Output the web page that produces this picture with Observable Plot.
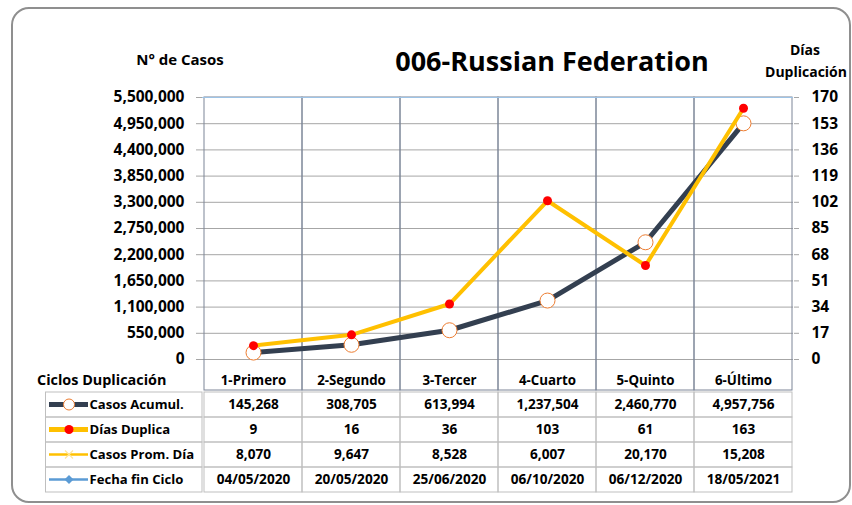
<!DOCTYPE html>
<html><head><meta charset="utf-8">
<script src="https://cdn.jsdelivr.net/npm/d3@7"></script>
<script src="https://cdn.jsdelivr.net/npm/@observablehq/plot@0.6"></script>
<style>
body{margin:0;background:#fff;}
#wrap{position:relative;width:852px;height:505px;overflow:hidden;font-family:"Open Sans",sans-serif;background:#fff;}
#frame{position:absolute;left:11px;top:7px;width:840px;height:496px;border:2px solid #8f8f8f;border-radius:18px;box-sizing:border-box;}
#main,#table{position:absolute;left:0;}
#main{top:0;}
#table{top:359px;}
</style>
</head><body>
<div id="wrap"><div id="frame"></div><div id="main"></div><div id="table"></div></div>
<script>
const categories = ["1-Primero","2-Segundo","3-Tercer","4-Cuarto","5-Quinto","6-Último"];
const casosAcumul = [145268, 308705, 613994, 1237504, 2460770, 4957756];
const diasDuplica = [9, 16, 36, 103, 61, 163];
const casosPromDia = [8070, 9647, 8528, 6007, 20170, 15208];
const fechaFinCiclo = ["04/05/2020","20/05/2020","25/06/2020","06/10/2020","06/12/2020","18/05/2021"];
const leftTicks = [0,550000,1100000,1650000,2200000,2750000,3300000,3850000,4400000,4950000,5500000];
const rightTicks = [0,17,34,51,68,85,102,119,136,153,170];
const rowNames = ["Casos Acumul.","Días Duplica","Casos Prom. Día","Fecha fin Ciclo"];

const yMax = 5500000, dMax = 170, k = yMax / dMax;
const fmt = d3.format(",");
const series = categories.map((cat, i) => ({cat, casos: casosAcumul[i], dias: diasDuplica[i]}));
const FONT = "Open Sans";

const main = Plot.plot({
  width: 852, height: 505,
  marginLeft: 202, marginRight: 59, marginTop: 97, marginBottom: 146,
  style: {background: "transparent", fontFamily: FONT, overflow: "visible"},
  x: {type: "band", domain: categories, padding: 0, axis: null},
  y: {domain: [0, yMax], axis: null},
  marks: [
    Plot.ruleY(leftTicks.filter(v => v < yMax), {stroke: "#a6a6a6", strokeWidth: 1}),
    Plot.cell(categories, {x: d => d, fill: "none", stroke: "#7c8597", strokeWidth: 1, insetBottom: -31}),
    Plot.ruleY([yMax], {stroke: "#9dc3e6", strokeWidth: 1}),
    Plot.axisY(leftTicks, {anchor: "left", tickSize: 6, tickPadding: 12, tickFormat: fmt, stroke: "#a6a6a6", fill: "#000", fontSize: 15.5, fontWeight: "bold", fontFamily: FONT, label: null}),
    Plot.axisY(rightTicks.map(d => d * k), {anchor: "right", tickSize: 5, tickPadding: 13, tickFormat: d => String(Math.round(d / k)), stroke: "#a6a6a6", fill: "#000", fontSize: 15.5, fontWeight: "bold", fontFamily: FONT, label: null}),
    Plot.line(series, {x: "cat", y: "casos", stroke: "#333f50", strokeWidth: 5}),
    Plot.dot(series, {x: "cat", y: "casos", r: 7.5, fill: "white", stroke: "#ed7d31", strokeWidth: 1}),
    Plot.line(series, {x: "cat", y: d => d.dias * k, stroke: "#ffc000", strokeWidth: 4}),
    Plot.dot(series, {x: "cat", y: d => d.dias * k, r: 4.5, fill: "#ff0000", stroke: "none"})
  ]
});
document.getElementById("main").appendChild(main);

const ms = d3.select(main);
function addText(svg, x, y, txt, size, anchor) {
  svg.append("text").attr("x", x).attr("y", y).attr("text-anchor", anchor)
    .attr("font-family", FONT).attr("font-weight", "bold").attr("font-size", size)
    .attr("fill", "#000").text(txt);
}
addText(ms, 180, 65, "N° de Casos", 15, "middle");
addText(ms, 552, 71, "006-Russian Federation", 27, "middle");
addText(ms, 805, 55, "Días", 14, "middle");
addText(ms, 806, 77, "Duplicación", 14, "middle");
addText(ms, 37, 385, "Ciclos Duplicación", 14.4, "start");

const rowValues = [casosAcumul.map(fmt), diasDuplica.map(String), casosPromDia.map(fmt), fechaFinCiclo];
const tableCells = [];
rowNames.forEach((r, j) => categories.forEach((c, i) => tableCells.push({row: r, cat: c, text: rowValues[j][i]})));

const table = Plot.plot({
  width: 852, height: 140,
  marginLeft: 202, marginRight: 59, marginTop: 31, marginBottom: 6,
  style: {background: "transparent", fontFamily: FONT, overflow: "visible"},
  x: {type: "band", domain: categories, padding: 0, axis: null},
  y: {type: "band", domain: rowNames, padding: 0, axis: null},
  marks: [
    Plot.cell(tableCells, {x: "cat", y: "row", fill: "none", stroke: "#bfbfbf"}),
    Plot.text(tableCells, {x: "cat", y: "row", text: "text", fontSize: 13.6, fontWeight: "bold", fontFamily: FONT, fill: "#000"}),
    Plot.text(categories, {x: d => d, text: d => d, frameAnchor: "top", dy: -15, fontSize: 13.3, fontWeight: "bold", fontFamily: FONT, fill: "#000"}),
    Plot.text(rowNames, {y: d => d, text: d => d, frameAnchor: "left", textAnchor: "start", dx: -113, fontSize: 13.1, fontWeight: "bold", fontFamily: FONT, fill: "#000"})
  ]
});
document.getElementById("table").appendChild(table);

// legend column (row keys) drawn beside the table
const ty = table.scale("y");
const ts = d3.select(table);
const g = ts.append("g");
const bw = ty.bandwidth;
rowNames.forEach((r, j) => {
  const y0 = ty.apply(r);
  g.append("rect").attr("x", 45.5).attr("y", y0).attr("width", 156.5).attr("height", bw)
    .attr("fill", "none").attr("stroke", "#bfbfbf");
  const cy = y0 + bw / 2;
  if (j === 0) {
    g.append("line").attr("x1", 49).attr("x2", 88).attr("y1", cy).attr("y2", cy).attr("stroke", "#333f50").attr("stroke-width", 5);
    g.append("circle").attr("cx", 69).attr("cy", cy).attr("r", 5.5).attr("fill", "#fff").attr("stroke", "#ed7d31");
  } else if (j === 1) {
    g.append("line").attr("x1", 49).attr("x2", 88).attr("y1", cy).attr("y2", cy).attr("stroke", "#ffc000").attr("stroke-width", 5);
    g.append("circle").attr("cx", 69).attr("cy", cy).attr("r", 4.5).attr("fill", "#ff0000");
  } else if (j === 2) {
    g.append("line").attr("x1", 49).attr("x2", 88).attr("y1", cy).attr("y2", cy).attr("stroke", "#ffc000").attr("stroke-width", 2.5);
    g.append("path").attr("d", `M65,${cy-4}L73,${cy+4}M65,${cy+4}L73,${cy-4}`).attr("stroke", "#ffe699").attr("stroke-width", 1.2);
  } else {
    g.append("line").attr("x1", 49).attr("x2", 88).attr("y1", cy).attr("y2", cy).attr("stroke", "#5b9bd5").attr("stroke-width", 2.5);
    g.append("path").attr("d", `M69,${cy-4.5}L73.5,${cy}L69,${cy+4.5}L64.5,${cy}Z`).attr("fill", "#5b9bd5");
  }
});
</script>
</body></html>
